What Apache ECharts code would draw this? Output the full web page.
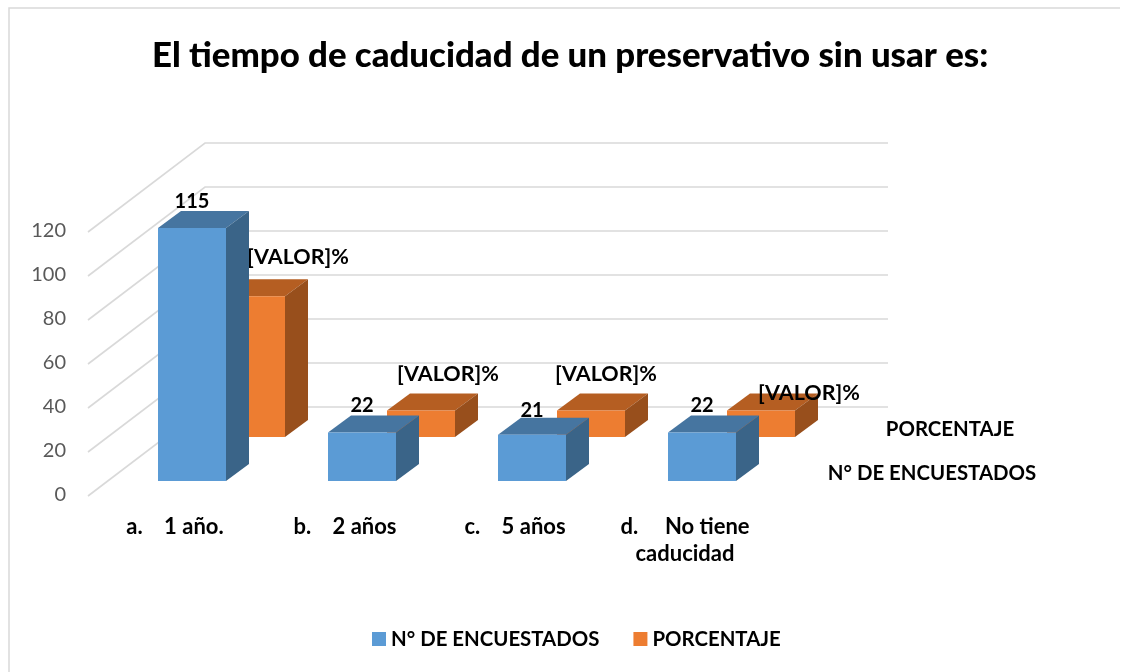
<!DOCTYPE html>
<html><head><meta charset="utf-8">
<style>html,body{margin:0;padding:0;background:#fff}#c{width:1132px;height:672px}</style>
<script src="https://cdn.jsdelivr.net/npm/echarts@6/dist/echarts.min.js"></script>
</head><body><div id="c"></div>
<script>
const categories = ['a.    1 año.', 'b.    2 años', 'c.    5 años', 'd.     No tiene\ncaducidad'];
const encuestados = [115, 22, 21, 22];
const porcentaje = [64, 12, 12, 12];
const porcentajeLabels = ['[VALOR]%', '[VALOR]%', '[VALOR]%', '[VALOR]%'];
const yTicks = [0, 20, 40, 60, 80, 100, 120];

const FONT = 'Lato, Carlito, Calibri, sans-serif';
const BAR_W = 68, DEPTH_X = 23, DEPTH_Y = 17;
const WALL_X = 115, WALL_Y = 89, WALL_W = 683;
const blueStyle = {front:'#5B9BD5', top:'#4675A0', side:'#3A6488'};
const orangeStyle = {front:'#ED7D31', top:'#B55E22', side:'#984F1C'};
const blueLabelOff = [[0,-26],[0,-27],[0,-24],[0,-27]];
const orangeLabelOff = [[47,-39],[27,-37],[15,-37],[48,-18]];

function prism(pts, fill){ return {type:'polygon', shape:{points:pts}, style:{fill:fill}}; }

function barItem(dx, dy, pal, labelFn, offs, size){
  return function(params, api){
    const i = api.value(0), v = api.value(1);
    const base = api.coord([i, 0]), top = api.coord([i, v]);
    const x0 = base[0] + dx - BAR_W/2, x1 = x0 + BAR_W;
    const yB = base[1] - dy, yT = top[1] - dy;
    const off = offs[i];
    return {type:'group', children:[
      prism([[x0,yT],[x1,yT],[x1+DEPTH_X,yT-DEPTH_Y],[x0+DEPTH_X,yT-DEPTH_Y]], pal.top),
      prism([[x1,yT],[x1+DEPTH_X,yT-DEPTH_Y],[x1+DEPTH_X,yB-DEPTH_Y],[x1,yB]], pal.side),
      {type:'rect', shape:{x:x0,y:yT,width:BAR_W,height:yB-yT}, style:{fill:pal.front}},
      {type:'text', z2:50, style:{x:(x0+x1)/2+off[0], y:yT+off[1], text:labelFn(i,v),
        font:'bold '+size+'px '+FONT, fill:'#000', align:'center', verticalAlign:'middle'}}
    ]};
  };
}

function wallItem(params, api){
  const y = api.coord([0, api.value(0)])[1];
  const x = params.coordSys.x;
  return {type:'polyline', shape:{points:[[x-2,y+1],[x+WALL_X,y-WALL_Y+1],[x+WALL_X+WALL_W,y-WALL_Y+1]]},
    style:{stroke:'#D9D9D9', lineWidth:1.6, fill:null}};
}

const chart = echarts.init(document.getElementById('c'), null, {renderer:'canvas'});
chart.setOption({
  animation:false,
  backgroundColor:'#fff',
  title:{text:'El tiempo de caducidad de un preservativo sin usar es:', top:33, left:147,
    textStyle:{fontFamily:FONT, fontWeight:900, fontSize:34.8, color:'#000'}},
  legend:{left:367, top:624, itemWidth:14, itemHeight:14, itemGap:34, icon:'rect',
    data:['N° DE ENCUESTADOS','PORCENTAJE'],
    textStyle:{fontFamily:FONT, fontWeight:'bold', fontSize:20.4, color:'#000', padding:[0,0,0,0]}},
  grid:{left:90, top:231, width:680, height:264},
  xAxis:{type:'category', data:categories, axisLine:{show:false}, axisTick:{show:false},
    axisLabel:{interval:0, margin:18, fontFamily:FONT, fontWeight:'bold', fontSize:22, color:'#000', lineHeight:27}},
  yAxis:{type:'value', min:0, max:120, interval:20, axisLine:{show:false}, axisTick:{show:false}, splitLine:{show:false},
    axisLabel:{margin:24, fontFamily:FONT, fontSize:20, color:'#595959'}},
  graphic:[
    {type:'polyline', silent:true, shape:{points:[[9,672],[9,8],[1120,8]]}, style:{stroke:'#D9D9D9', lineWidth:1.5, fill:null}},
    {type:'text', style:{x:950, y:429, text:'PORCENTAJE', font:'bold 20.4px '+FONT, fill:'#000', align:'center', verticalAlign:'middle'}},
    {type:'text', style:{x:932, y:473, text:'N° DE ENCUESTADOS', font:'bold 20.4px '+FONT, fill:'#000', align:'center', verticalAlign:'middle'}}
  ],
  series:[
    {type:'custom', name:'grid', z:1, silent:true, legendHoverLink:false, coordinateSystem:'cartesian2d',
      data:yTicks.map(t=>[t]), encode:{y:0}, renderItem:wallItem},
    {type:'custom', name:'PORCENTAJE', z:2, coordinateSystem:'cartesian2d', itemStyle:{color:orangeStyle.front},
      data:porcentaje.map((v,i)=>[i,v]), encode:{x:0,y:1},
      renderItem:barItem(76, 58, orangeStyle, i=>porcentajeLabels[i], orangeLabelOff, 21.5)},
    {type:'custom', name:'N° DE ENCUESTADOS', z:3, coordinateSystem:'cartesian2d', itemStyle:{color:blueStyle.front},
      data:encuestados.map((v,i)=>[i,v]), encode:{x:0,y:1},
      renderItem:barItem(17, 14, blueStyle, (i,v)=>String(v), blueLabelOff, 20)}
  ]
});
</script></body></html>
